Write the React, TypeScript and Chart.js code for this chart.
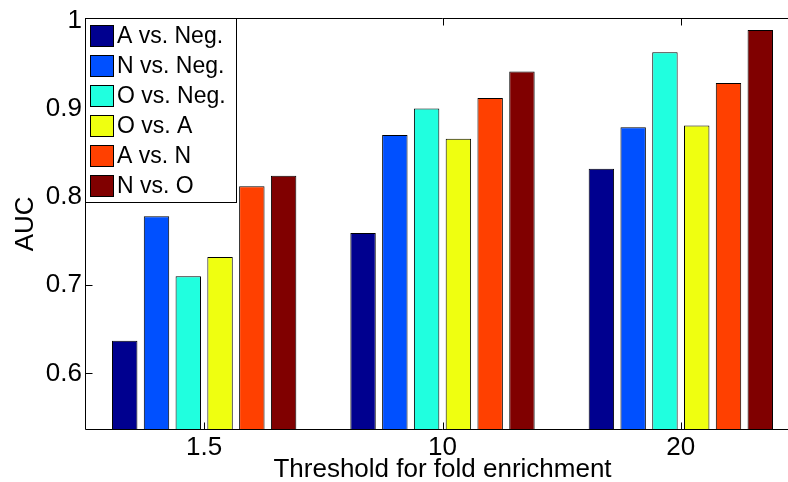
import React, { useEffect, useRef } from "react";
import { Chart, registerables } from "chart.js";

Chart.register(...registerables);

// ---- data ----
const categories = ["1.5", "10", "20"];
const seriesLabels = ["A vs. Neg.", "N vs. Neg.", "O vs. Neg.", "O vs. A", "A vs. N", "N vs. O"];
const aVsNeg = [0.637, 0.759, 0.832];
const nVsNeg = [0.778, 0.870, 0.879];
const oVsNeg = [0.710, 0.900, 0.964];
const oVsA = [0.732, 0.866, 0.881];
const aVsN = [0.812, 0.912, 0.929];
const nVsO = [0.824, 0.942, 0.989];
const yTickValues = [0.6, 0.7, 0.8, 0.9, 1.0];
const yMin = 0.537;
const yMax = 1.002;

const seriesValues = [aVsNeg, nVsNeg, oVsNeg, oVsA, aVsN, nVsO];
const seriesColors = ["#00008F", "#0050FF", "#20FFDF", "#EFFF10", "#FF4000", "#800000"];

const FONT = "'Liberation Sans', Arial, Helvetica, sans-serif";

const axesBoxPlugin = {
  id: "axesBox",
  afterDatasetsDraw(chart: any) {
    const { ctx, chartArea } = chart;
    const { left, top, right, bottom } = chartArea;
    const L = Math.round(left) + 0.5;
    const T = Math.round(top) - 0.5;
    const B = Math.round(bottom) + 0.5;
    const R = Math.round(right) - 0.5;
    ctx.save();
    ctx.strokeStyle = "#000";
    ctx.lineWidth = 1;
    ctx.beginPath();
    ctx.moveTo(L, T);
    ctx.lineTo(R, T);
    ctx.lineTo(R, B);
    ctx.lineTo(L, B);
    ctx.closePath();
    ctx.stroke();
    const ys = chart.scales.y;
    ctx.beginPath();
    yTickValues.forEach((v) => {
      const py = Math.round(ys.getPixelForValue(v)) + 0.5;
      ctx.moveTo(L, py);
      ctx.lineTo(L + 7, py);
      ctx.moveTo(R, py);
      ctx.lineTo(R - 7, py);
    });
    const xs = chart.scales.x;
    categories.forEach((_, i) => {
      const px = Math.round(xs.getPixelForValue(i)) + 0.5;
      ctx.moveTo(px, B);
      ctx.lineTo(px, B - 7);
      ctx.moveTo(px, T);
      ctx.lineTo(px, T + 7);
    });
    ctx.stroke();
    ctx.restore();
  },
  afterDraw(chart: any) {
    const { ctx, chartArea } = chart;
    const x0 = Math.round(chartArea.left);
    const y0 = Math.round(chartArea.top);
    const w = 151;
    const h = 184;
    ctx.save();
    ctx.fillStyle = "#fff";
    ctx.fillRect(x0, y0, w, h);
    ctx.strokeStyle = "#000";
    ctx.lineWidth = 1;
    ctx.strokeRect(x0 + 0.5, y0 - 0.5, w, h);
    ctx.font = "23px " + FONT;
    ctx.textBaseline = "middle";
    ctx.textAlign = "left";
    chart.data.datasets.forEach((ds: any, i: number) => {
      const sy = y0 + 6 + 30 * i;
      ctx.fillStyle = ds.backgroundColor;
      ctx.fillRect(x0 + 5, sy, 24, 22);
      ctx.strokeStyle = "#000";
      ctx.strokeRect(x0 + 5.5, sy + 0.5, 23, 21);
      ctx.fillStyle = "#000";
      ctx.fillText(ds.label, x0 + 32, sy + 12);
    });
    ctx.restore();
  },
};

export default function App() {
  const ref = useRef<HTMLCanvasElement>(null);
  useEffect(() => {
    if (!ref.current) return;
    Chart.defaults.font.family = FONT;
    const chart = new Chart(ref.current, {
      type: "bar",
      data: {
        labels: categories,
        datasets: seriesLabels.map((label, i) => ({
          label,
          data: seriesValues[i],
          backgroundColor: seriesColors[i],
          borderColor: "#000",
          borderWidth: 1,
          borderSkipped: false,
          categoryPercentage: 0.8,
          barPercentage: 0.8,
        })),
      },
      options: {
        responsive: false,
        animation: false,
        layout: { padding: { left: 0, top: 16, right: 10, bottom: 0 } },
        plugins: {
          legend: { display: false },
          tooltip: { enabled: false },
        },
        scales: {
          x: {
            type: "category",
            offset: true,
            grid: { display: false, drawTicks: false },
            border: { display: false },
            ticks: { color: "#000", font: { size: 26 }, padding: 3, maxRotation: 0 },
            title: {
              display: true,
              text: "Threshold for fold enrichment",
              color: "#000",
              font: { size: 26, lineHeight: 0.9 },
              padding: 0,
            },
            afterFit: (s: any) => {
              s.height = 53;
            },
          },
          y: {
            min: yMin,
            max: yMax,
            grid: { display: false, drawTicks: false },
            border: { display: false },
            afterBuildTicks: (s: any) => {
              s.ticks = yTickValues.map((v) => ({ value: v }));
            },
            ticks: {
              color: "#000",
              font: { size: 26 },
              padding: 3,
              callback: (v: any) => String(Number(v)),
            },
            title: {
              display: true,
              text: "AUC",
              color: "#000",
              font: { size: 26 },
              padding: { top: 10, bottom: 0 },
            },
            afterFit: (s: any) => {
              s.width = 85;
            },
          },
        },
      },
      plugins: [axesBoxPlugin],
    });
    return () => chart.destroy();
  }, []);
  return (
    <div
      style={{
        position: "fixed",
        left: 0,
        top: 0,
        width: 788,
        height: 482,
        overflow: "hidden",
        background: "#fff",
      }}
    >
      <canvas ref={ref} width={810} height={482} style={{ display: "block" }} />
    </div>
  );
}
